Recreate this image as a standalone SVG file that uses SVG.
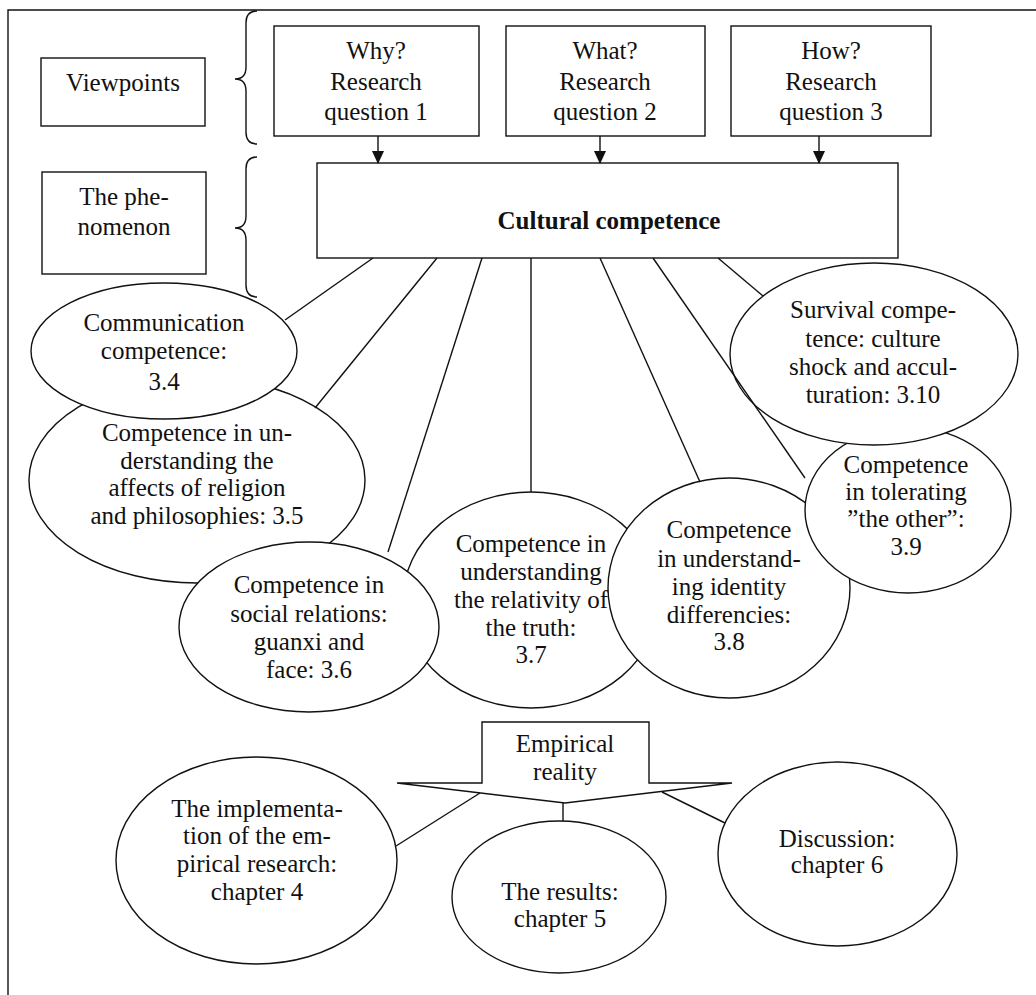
<svg xmlns="http://www.w3.org/2000/svg" width="1036" height="995" viewBox="0 0 1036 995">
<style>
text{font-family:"Liberation Serif","Times New Roman",serif;font-size:25px;fill:#111;text-anchor:middle}
.b{font-weight:bold}
.s{fill:#fff;stroke:#111;stroke-width:1.4}
.l{stroke:#111;stroke-width:1.4;fill:none}
</style>
<defs>
<marker id="ah" markerWidth="13" markerHeight="12" refX="12" refY="6" orient="auto" markerUnits="userSpaceOnUse" viewBox="0 0 13 12">
<path d="M0,0 L13,6 L0,12 Z" fill="#111"/>
</marker>
</defs>
<rect width="1036" height="995" fill="#fff"/>
<path class="l" d="M8,995 L8,10 L1036,10"/>
<g id="braces">
<path class="l" d="M257,11 Q246,11 246,23 L246,67 Q246,79 235,79 Q246,79 246,91 L246,132 Q246,144 257,144"/>
<path class="l" d="M257,157 Q246,157 246,169 L246,216 Q246,228 235,228 Q246,228 246,240 L246,285 Q246,297 257,297"/>
</g>
<g id="viewpoints"><rect class="s" x="41" y="58" width="164" height="68"/><text x="123" y="91">Viewpoints</text></g>
<g id="phenomenon"><rect class="s" x="42" y="172" width="164" height="102"/><text x="124" y="205">The phe-</text><text x="124" y="235">nomenon</text></g>
<g id="why"><rect class="s" x="274" y="26" width="205" height="110"/><text x="376" y="59">Why?</text><text x="376" y="90">Research</text><text x="376" y="120">question 1</text></g>
<g id="what"><rect class="s" x="506" y="26" width="199" height="110"/><text x="605" y="59">What?</text><text x="605" y="90">Research</text><text x="605" y="120">question 2</text></g>
<g id="how"><rect class="s" x="731" y="26" width="200" height="110"/><text x="831" y="59">How?</text><text x="831" y="90">Research</text><text x="831" y="120">question 3</text></g>
<g id="cultural"><rect class="s" x="317" y="163" width="581" height="95"/><text class="b" x="609" y="229">Cultural competence</text></g>
<g id="e35"><ellipse class="s" cx="197" cy="480" rx="168" ry="103"/><text x="197" y="441">Competence in un-</text><text x="197" y="469">derstanding the</text><text x="197" y="496">affects of religion</text><text x="197" y="524">and philosophies: 3.5</text></g>
<g id="e34"><ellipse class="s" cx="164" cy="351" rx="133" ry="68"/><text x="164" y="331">Communication</text><text x="164" y="359">competence:</text><text x="164" y="390">3.4</text></g>
<g id="e37"><ellipse class="s" cx="531" cy="600" rx="128" ry="108"/><text x="531" y="552">Competence in</text><text x="531" y="580">understanding</text><text x="531" y="608">the relativity of</text><text x="531" y="636">the truth:</text><text x="531" y="663">3.7</text></g>
<g id="e36"><ellipse class="s" cx="309" cy="627" rx="130" ry="85"/><text x="309" y="593">Competence in</text><text x="309" y="622">social relations:</text><text x="309" y="650">guanxi and</text><text x="309" y="678">face: 3.6</text></g>
<g id="e38"><ellipse class="s" cx="729" cy="588" rx="121" ry="110"/><text x="729" y="538">Competence</text><text x="729" y="567">in understand-</text><text x="729" y="595">ing identity</text><text x="729" y="623">differencies:</text><text x="729" y="650">3.8</text></g>
<g id="e39"><ellipse class="s" cx="908" cy="510" rx="103" ry="83"/><text x="906" y="473">Competence</text><text x="906" y="500">in tolerating</text><text x="906" y="527">”the other”:</text><text x="906" y="555">3.9</text></g>
<g id="e310"><ellipse class="s" cx="874" cy="354" rx="144" ry="91"/><text x="873" y="318">Survival compe-</text><text x="873" y="347">tence: culture</text><text x="873" y="375">shock and accul-</text><text x="873" y="403">turation: 3.10</text></g>
<g id="empirical"><path class="s" d="M482,722 L649,722 L649,783 L732,783 L565,803 L397,783 L482,783 Z"/><text x="565" y="752">Empirical</text><text x="565" y="780">reality</text></g>
<g id="ch4"><ellipse class="s" cx="256.5" cy="860.5" rx="140.5" ry="103.5"/><text x="257" y="817">The implementa-</text><text x="257" y="844">tion of the em-</text><text x="257" y="872">pirical research:</text><text x="257" y="900">chapter 4</text></g>
<g id="ch5"><ellipse class="s" cx="559" cy="897" rx="107" ry="76"/><text x="560" y="900">The results:</text><text x="560" y="927">chapter 5</text></g>
<g id="ch6"><ellipse class="s" cx="837.5" cy="854" rx="119.5" ry="92"/><text x="837" y="847">Discussion:</text><text x="837" y="873">chapter 6</text></g>
<g id="connectors">
<line class="l" x1="378" y1="136" x2="378" y2="163" marker-end="url(#ah)"/>
<line class="l" x1="600" y1="136" x2="600" y2="163" marker-end="url(#ah)"/>
<line class="l" x1="819" y1="136" x2="819" y2="163" marker-end="url(#ah)"/>
<line class="l" x1="373" y1="258" x2="285" y2="320"/>
<line class="l" x1="437" y1="258" x2="315" y2="408"/>
<line class="l" x1="482" y1="258" x2="388" y2="552"/>
<line class="l" x1="531" y1="258" x2="531" y2="492"/>
<line class="l" x1="600" y1="258" x2="700" y2="482"/>
<line class="l" x1="653" y1="258" x2="805" y2="478"/>
<line class="l" x1="718" y1="258" x2="763" y2="296"/>
<line class="l" x1="480" y1="793" x2="396" y2="846"/>
<line class="l" x1="563" y1="803" x2="563" y2="821"/>
<line class="l" x1="662" y1="792" x2="725" y2="823"/>
</g>
</svg>
